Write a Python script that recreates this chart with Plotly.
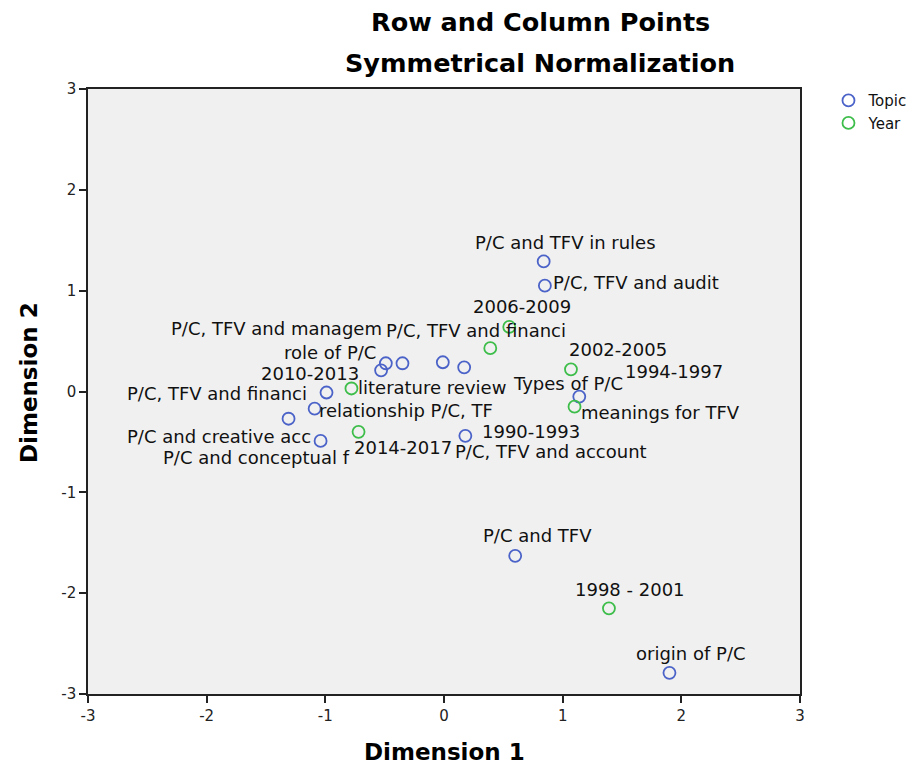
import plotly.graph_objects as go

# ---- data ----
topic_labels = [
    "P/C and TFV in rules", "P/C, TFV and audit", "role of P/C",
    "P/C, TFV and managem", "literature review", "P/C, TFV and financi",
    "Types of P/C", "P/C, TFV and financi", "relationship P/C, TF",
    "P/C and creative acc", "P/C and conceptual f", "P/C, TFV and account",
    "meanings for TFV", "P/C and TFV", "origin of P/C",
]
topic_dim1 = [0.84, 0.85, -0.49, -0.35, -0.53, -0.01, 0.17, -0.99, -1.09,
              -1.31, -1.04, 0.18, 1.14, 0.60, 1.90]
topic_dim2 = [1.29, 1.05, 0.28, 0.28, 0.21, 0.29, 0.24, -0.01, -0.17,
              -0.27, -0.49, -0.44, -0.05, -1.63, -2.79]

year_labels = ["2006-2009", "1990-1993", "2002-2005", "1994-1997",
               "2010-2013", "2014-2017", "1998 - 2001"]
year_dim1 = [0.55, 0.39, 1.07, 1.10, -0.78, -0.72, 1.39]
year_dim2 = [0.64, 0.43, 0.22, -0.15, 0.03, -0.40, -2.15]

axis_ticks = [-3, -2, -1, 0, 1, 2, 3]

# ---- label placement offsets (pixels, style only) ----
topic_shift = [(22, 19), (91.5, 3), (-56, 11), (-125.5, 35), (51, -17),
               (33.5, 32), (103.5, -16), (-109.5, -1), (91.5, -2),
               (-70, -18), (-64.5, -17), (86, -16), (81.5, -16),
               (22, 20), (21.5, 19)]
year_shift = [(12.5, 20), (41, -83), (47.5, 20), (99.5, 35), (-41.5, 15),
              (44.5, -16), (21, 19)]

BLUE = "#4b63c8"
GREEN = "#3dbd4a"
FONT = "DejaVu Sans, Liberation Sans, Arial, sans-serif"

fig = go.Figure()
fig.add_trace(go.Scatter(
    x=topic_dim1, y=topic_dim2, mode="markers", name="Topic",
    marker=dict(symbol="circle-open", size=12, color=BLUE, line=dict(width=1.8, color=BLUE)),
    hovertext=topic_labels,
))
fig.add_trace(go.Scatter(
    x=year_dim1, y=year_dim2, mode="markers", name="Year",
    marker=dict(symbol="circle-open", size=12, color=GREEN, line=dict(width=1.8, color=GREEN)),
    hovertext=year_labels,
))

annotations = []
for lab, xv, yv, (dx, dy) in zip(topic_labels, topic_dim1, topic_dim2, topic_shift):
    annotations.append(dict(x=xv, y=yv, text=lab, showarrow=False, xanchor="center",
                            yanchor="middle", xshift=dx, yshift=dy,
                            font=dict(family=FONT, size=18, color="#111")))
for lab, xv, yv, (dx, dy) in zip(year_labels, year_dim1, year_dim2, year_shift):
    annotations.append(dict(x=xv, y=yv, text=lab, showarrow=False, xanchor="center",
                            yanchor="middle", xshift=dx, yshift=dy,
                            font=dict(family=FONT, size=18, color="#111")))

# titles
annotations.append(dict(xref="paper", yref="paper", x=0.635, y=1.111, text="<b>Row and Column Points</b>",
                        showarrow=False, xanchor="center", yanchor="middle",
                        font=dict(family=FONT, size=25.5, color="#000")))
annotations.append(dict(xref="paper", yref="paper", x=0.635, y=1.043, text="<b>Symmetrical Normalization</b>",
                        showarrow=False, xanchor="center", yanchor="middle",
                        font=dict(family=FONT, size=25.5, color="#000")))
annotations.append(dict(xref="paper", yref="paper", x=0.5, y=-0.096, text="<b>Dimension 1</b>",
                        showarrow=False, xanchor="center", yanchor="middle",
                        font=dict(family=FONT, size=23, color="#000")))
annotations.append(dict(xref="paper", yref="paper", x=-0.082, y=0.515, text="<b>Dimension 2</b>",
                        showarrow=False, xanchor="center", yanchor="middle", textangle=-90,
                        font=dict(family=FONT, size=23, color="#000")))

axis_common = dict(
    tickvals=axis_ticks, ticktext=[str(t) for t in axis_ticks],
    showgrid=False, zeroline=False, showline=True, mirror=True,
    linecolor="#222", linewidth=1.5, ticks="outside", ticklen=7, tickwidth=1.5,
    tickcolor="#222", tickfont=dict(family=FONT, size=15, color="#222"),
)

fig.update_layout(
    width=906, height=757,
    margin=dict(l=80, r=114, t=81, b=71, autoexpand=False),
    paper_bgcolor="white", plot_bgcolor="#f0f0f0",
    xaxis=dict(range=[-3, 3], **axis_common),
    yaxis=dict(range=[-3, 3], **axis_common),
    showlegend=True,
    legend=dict(x=1.04, y=1.008, xanchor="left", yanchor="top",
                font=dict(family=FONT, size=15, color="#111"),
                bgcolor="rgba(0,0,0,0)", tracegroupgap=0, itemwidth=30),
    annotations=annotations,
)

fig.write_html("out.html")
